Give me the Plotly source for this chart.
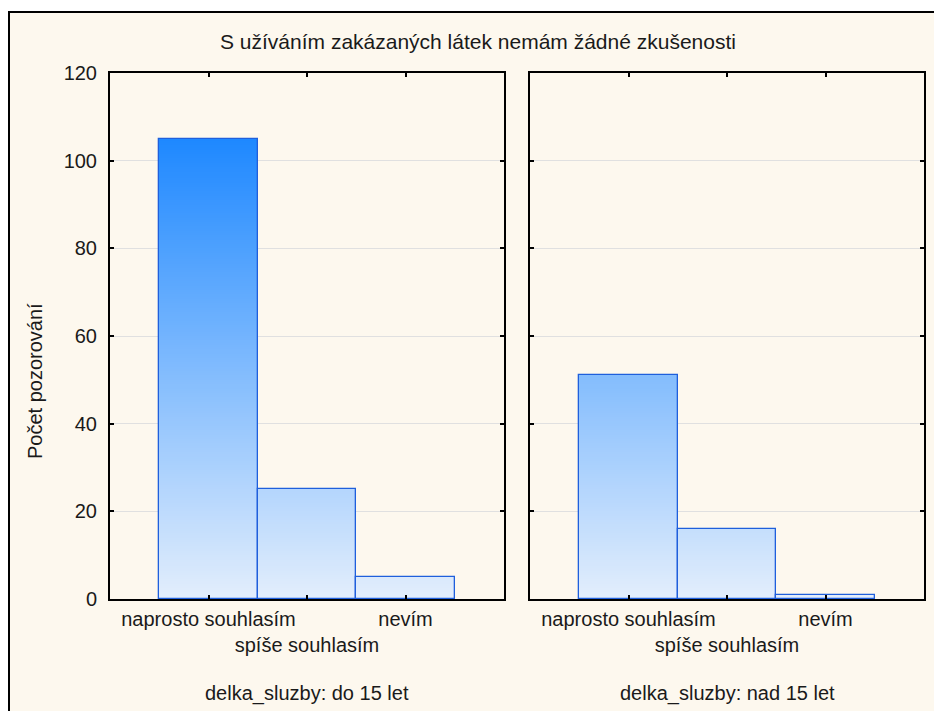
import plotly.graph_objects as go
from plotly.subplots import make_subplots
from plotly.colors import sample_colorscale

# ---- data ----
categories = ["naprosto souhlasím", "spíše souhlasím", "nevím"]
tick_labels = ["naprosto souhlasím", "<br>spíše souhlasím", "nevím"]
group_labels = ["delka_sluzby: do 15 let", "delka_sluzby: nad 15 let"]
counts_do15 = [105, 25, 5]
counts_nad15 = [51, 16, 1]
y_ticks = [0, 20, 40, 60, 80, 100, 120]
title_text = "S užíváním zakázaných látek nemám žádné zkušenosti"
y_title = "Počet pozorování"

# ---- style ----
W, H = 934, 711
FONT = "Arial, 'Liberation Sans', sans-serif"
FS = 20
TXT = "#1a1a1a"
grad_scale = [[0, "#E3EEFC"], [1, "#1E88FF"]]
gmax = max(counts_do15 + counts_nad15)
step = 0.5


def gradient_segments(values):
    xs, bases, heights, colors = [], [], [], []
    for cat, v in zip(categories, values):
        b = 0.0
        while b < v - 1e-9:
            h = min(step, v - b)
            top = min(b + h * 1.6, v)
            xs.append(cat)
            bases.append(b)
            heights.append(top - b)
            colors.append(sample_colorscale(grad_scale, [(b + h / 2) / gmax])[0])
            b += h
    return xs, bases, heights, colors


fig = make_subplots(rows=1, cols=2, shared_yaxes=False)

for col, vals in ((1, counts_do15), (2, counts_nad15)):
    xs, bases, hs, cols = gradient_segments(vals)
    fig.add_trace(go.Bar(x=xs, y=hs, base=bases,
                         marker=dict(color=cols, line=dict(width=0)),
                         showlegend=False, hoverinfo="skip"), row=1, col=col)
    fig.add_trace(go.Bar(x=categories, y=vals,
                         marker=dict(color="rgba(0,0,0,0)",
                                     line=dict(color="#1F5FDC", width=1.3)),
                         showlegend=False), row=1, col=col)

xdom = [[110 / W, 504 / W], [530 / W, 924 / W]]
ydom = [(H - 599) / H, (H - 73) / H]

common_x = dict(type="category", categoryorder="array", categoryarray=categories,
                range=[-1, 3], tickmode="array", tickvals=categories, ticktext=tick_labels,
                tickangle=0, automargin=False,
                ticks="inside", ticklen=4, tickwidth=1.5, tickcolor="black",
                showline=True, linecolor="black", linewidth=2, mirror="ticks",
                showgrid=False, zeroline=False, ticklabelstandoff=1,
                tickfont=dict(family=FONT, size=FS, color=TXT))
common_y = dict(range=[0, 120], tickmode="array", tickvals=y_ticks, automargin=False,
                ticks="inside", ticklen=4, tickwidth=1.5, tickcolor="black",
                showline=True, linecolor="black", linewidth=2, mirror="ticks",
                showgrid=True, gridcolor="#E0E0E0", gridwidth=1, zeroline=False,
                tickfont=dict(family=FONT, size=FS, color=TXT))

fig.update_layout(
    width=W, height=H, margin=dict(l=0, r=0, t=0, b=0, autoexpand=False),
    paper_bgcolor="white", plot_bgcolor="white",
    barmode="overlay", bargap=0,
    xaxis=dict(domain=xdom[0], **common_x),
    xaxis2=dict(domain=xdom[1], **common_x),
    yaxis=dict(domain=ydom, ticklabelstandoff=7, **common_y),
    yaxis2=dict(domain=ydom, showticklabels=False, **common_y),
    font=dict(family=FONT, size=FS, color=TXT),
)

fig.add_shape(type="rect", xref="paper", yref="paper",
              x0=9 / W, x1=1.05, y0=-0.05, y1=1 - 12 / H,
              fillcolor="#FDF8EE", line=dict(color="black", width=2), layer="below")

fig.add_annotation(text=title_text, xref="paper", yref="paper",
                   x=478 / W, y=1 - 42 / H, showarrow=False,
                   xanchor="center", yanchor="middle",
                   font=dict(family=FONT, size=21, color=TXT))
fig.add_annotation(text=y_title, xref="paper", yref="paper",
                   x=35 / W, y=1 - 381 / H, showarrow=False, textangle=-90,
                   xanchor="center", yanchor="middle",
                   font=dict(family=FONT, size=FS, color=TXT))
for i, lab in enumerate(group_labels):
    fig.add_annotation(text=lab, xref="x domain" if i == 0 else "x2 domain", yref="paper",
                       x=0.5, y=1 - 693 / H, showarrow=False,
                       xanchor="center", yanchor="middle",
                       font=dict(family=FONT, size=FS, color=TXT))

fig.write_html("out.html", config={"displayModeBar": False},
               post_script="document.body.style.margin='0';document.body.style.padding='0';")
